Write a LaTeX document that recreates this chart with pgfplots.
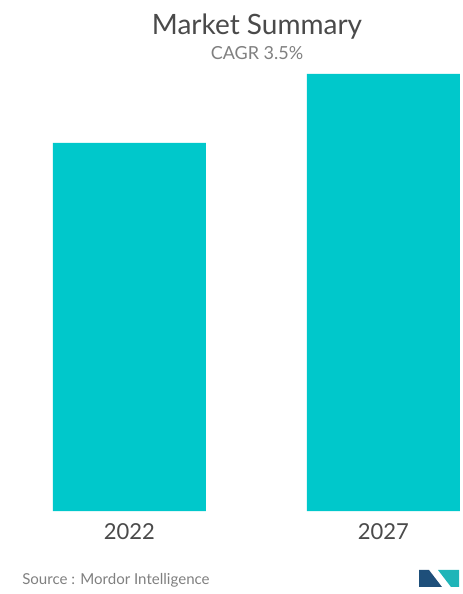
\documentclass[border=0pt]{standalone}
\usepackage{fontspec}
\setmainfont{Lato}
\usepackage{pgfplots}
\pgfplotsset{compat=1.18}
\definecolor{barc}{HTML}{00C8CB}
\definecolor{titlec}{HTML}{4A4A4A}
\definecolor{subc}{HTML}{808080}
\definecolor{navy}{HTML}{1E4F7A}
\definecolor{logot}{HTML}{1FB5B8}
\begin{document}
\begin{tikzpicture}
\useasboundingbox (0,0) rectangle (346.5pt,445.5pt);
\begin{axis}[
  at={(0pt,62.25pt)}, anchor=south west,
  scale only axis, width=346.5pt, height=327.75pt,
  xmin=-0.5098, xmax=1.3091, ymin=0, ymax=1.1875,
  axis line style={draw=none}, major tick length=0pt,
  ytick=\empty, xtick=data, xticklabels={2022,2027},
  xticklabel style={anchor=center, yshift=-15.75pt, font=\fontsize{16.5}{19}\selectfont, text=titlec},
  ybar, bar width=0.6024, clip=false,
]
\addplot[fill=barc, draw=none] coordinates {(0,1.00) (1,1.1875)};
\end{axis}
\node[text=titlec, font=\fontsize{21}{25}\selectfont] at (192.75pt,425.5pt) {Market Summary};
\node[text=subc, font=\fontsize{13.5}{16}\selectfont] at (192.75pt,406pt) {CAGR 3.5\%};
\node[text=subc, anchor=west, inner sep=0pt, font=\fontsize{11.3}{13}\selectfont] at (16.5pt,10.5pt) {Source : Mordor Intelligence};
% logo
\fill[navy] (314.25pt,18pt) -- (321.75pt,18pt) -- (331.5pt,5.25pt) -- (314.25pt,5.25pt) -- cycle;
\fill[logot] (328.5pt,18pt) -- (344.25pt,18pt) -- (344.25pt,5.25pt) -- (338.25pt,5.25pt) -- cycle;
\end{tikzpicture}
\end{document}
